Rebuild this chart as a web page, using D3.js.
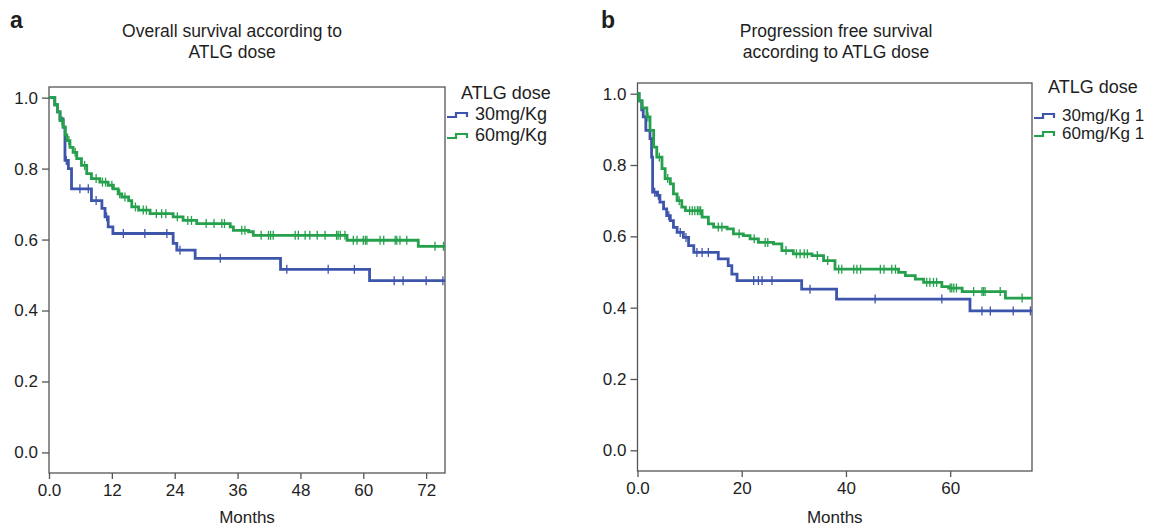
<!DOCTYPE html>
<html lang="en">
<head>
<meta charset="utf-8">
<title>Survival according to ATLG dose</title>
<script src="https://d3js.org/d3.v7.min.js"></script>
<style>
  body { margin: 0; background: #fff; }
  text { font-family: "Liberation Sans", Arial, sans-serif; fill: #1e1e1e; }
</style>
</head>
<body>
<script>
var width = 1154, height = 528

// step points [months, survival]
var os30 = [[0,1],[1.1,0.98],[1.6,0.96],[2.1,0.94],[2.7,0.917],[3.05,0.823],[3.7,0.80],[4.3,0.743],[8.1,0.71],[10.1,0.688],[10.7,0.664],[11.3,0.636],[12.2,0.617],[23.7,0.589],[24.4,0.57],[27.9,0.547],[44.2,0.516],[61.2,0.484]]
var os60 = [[0,1],[1.1,0.98],[1.6,0.96],[2.1,0.935],[2.7,0.917],[3.1,0.895],[3.4,0.879],[4.0,0.86],[4.6,0.846],[5.3,0.828],[6.2,0.809],[7.2,0.786],[8.1,0.772],[9.7,0.762],[11.3,0.753],[12.3,0.743],[13.2,0.729],[13.9,0.72],[15.2,0.71],[15.8,0.692],[17.1,0.683],[19.3,0.673],[23.7,0.664],[25.6,0.654],[28.2,0.645],[34.6,0.636],[35.2,0.626],[38.1,0.622],[39.0,0.612],[56.9,0.598],[70.5,0.581]]
var pfs30 = [[0,1],[0.3,0.98],[0.8,0.955],[1.1,0.935],[1.6,0.897],[2.4,0.874],[2.7,0.822],[2.9,0.724],[3.7,0.715],[4.3,0.696],[5.0,0.677],[5.6,0.658],[6.3,0.644],[6.9,0.625],[7.6,0.611],[8.8,0.597],[9.8,0.574],[10.8,0.555],[15.5,0.537],[17.4,0.518],[18.1,0.494],[19.1,0.476],[31.5,0.452],[38.2,0.424],[63.8,0.391]]
var pfs60 = [[0,1],[0.3,0.98],[0.9,0.96],[1.8,0.935],[2.4,0.897],[3.1,0.85],[3.7,0.822],[4.7,0.79],[5.3,0.762],[6.3,0.747],[6.9,0.719],[7.6,0.70],[8.5,0.682],[9.2,0.672],[12.4,0.654],[13.6,0.635],[14.6,0.626],[17.2,0.621],[18.4,0.607],[20.3,0.602],[21.6,0.593],[23.2,0.583],[26.1,0.579],[27.7,0.56],[29.9,0.551],[33.5,0.546],[35.7,0.532],[37.9,0.508],[50.1,0.499],[51.4,0.49],[53.3,0.48],[54.9,0.471],[58.4,0.459],[59.7,0.455],[62.3,0.445],[70.6,0.427]]

// censored times (months)
var os30Cens = [3.3,5.9,7.5,9.0,11.0,14.2,18.3,22.5,25.0,32.7,45.4,53.3,58.3,65.9,67.6,72.0,75.2]
var os60Cens = [2.5,3.8,5.0,6.8,9.0,10.2,10.8,12.0,13.5,14.5,16.5,18.0,18.6,20.5,21.5,22.3,24.5,26.5,27.2,30.0,31.5,33.0,33.5,36.8,37.4,40.5,41.9,42.3,42.8,47.0,47.6,48.9,49.8,51.2,52.7,54.9,55.2,55.6,56.5,58.1,58.8,60.0,60.4,60.7,63.2,63.9,66.1,66.4,67.0,68.3,73.7,75.3]
var pfs30Cens = [3.3,4.0,6.0,8.2,9.3,11.4,12.4,13.6,22.3,23.2,23.9,25.8,33.1,45.6,58.4,66.1,67.7,72.1,75.4]
var pfs60Cens = [2.0,4.2,5.8,8.0,10.0,10.5,11.0,11.5,11.8,12.1,15.5,16.2,19.5,22.4,24.5,25.0,28.5,30.5,31.2,32.0,32.6,34.5,36.5,38.6,39.2,41.5,42.1,42.8,46.6,47.3,48.8,49.5,55.5,56.1,56.8,57.4,60.0,60.3,60.7,61.2,64.5,66.1,66.4,66.7,69.6,73.8]

var osTicks = [0,12,24,36,48,60,72]
var pfsTicks = [0,20,40,60]
var yTicks = [0,0.2,0.4,0.6,0.8,1.0]
var groups = ["30mg/Kg","60mg/Kg"]
var groupsB = ["30mg/Kg 1","60mg/Kg 1"]
var colors = ["#3d55aa","#25a04c"]

var svg = d3.select("body").append("svg")
            .attr("width", width)
            .attr("height", height)

function panel(o) {
  var x = d3.scaleLinear().domain([0, o.xmax]).range([o.left, o.right])
  var y = d3.scaleLinear().domain([-0.058, 1.03]).range([o.bottom, o.top])
  var g = svg.append("g")

  g.append("rect")
   .attr("x", o.left).attr("y", o.top)
   .attr("width", o.right - o.left).attr("height", o.bottom - o.top)
   .attr("fill", "none").attr("stroke", "#555").attr("stroke-width", 1.3)

  var xa = g.append("g").attr("transform", "translate(0," + o.bottom + ")")
            .call(d3.axisBottom(x).tickValues(o.xticks).tickSize(6).tickPadding(5)
                  .tickFormat(function(d){ return d === 0 ? "0.0" : d }))
  var ya = g.append("g").attr("transform", "translate(" + o.left + ",0)")
            .call(d3.axisLeft(y).tickValues(yTicks).tickSize(7).tickPadding(4).tickFormat(d3.format(".1f")))
  ;[xa, ya].forEach(function(a){
    a.select(".domain").remove()
    a.selectAll("line").attr("stroke", "#555").attr("stroke-width", 1.3)
    a.selectAll("text").style("font-size", "17px").attr("fill", "#1e1e1e")
  })

  g.append("text").attr("x", (o.left + o.right) / 2).attr("y", 523)
   .attr("text-anchor", "middle").style("font-size", "17px").text("Months")

  g.append("text").attr("x", o.letterX).attr("y", 28)
   .style("font-size", "23px").style("font-weight", "bold").text(o.letter)
  o.title.forEach(function(t, i){
    g.append("text").attr("x", o.titleX).attr("y", 37 + i * 21)
     .attr("text-anchor", "middle").style("font-size", "17.5px").text(t)
  })

  var line = d3.line().curve(d3.curveStepAfter)
               .x(function(d){ return x(d[0]) }).y(function(d){ return y(d[1]) })

  o.series.forEach(function(s, i){
    var pts = s.concat([[o.xmax, s[s.length - 1][1]]])
    g.append("path").datum(pts).attr("d", line)
     .attr("fill", "none").attr("stroke", colors[i]).attr("stroke-width", 2.8)
    g.selectAll(null).data(o.cens[i]).enter().append("line")
     .attr("x1", function(t){ return x(t) }).attr("x2", function(t){ return x(t) })
     .attr("y1", function(t){ return y(survAt(s, t)) - 4.5 })
     .attr("y2", function(t){ return y(survAt(s, t)) + 4.5 })
     .attr("stroke", colors[i]).attr("stroke-width", 1.3)
  })

  // legend
  g.append("text").attr("x", o.legX + 14).attr("y", o.legY)
   .style("font-size", "18px").text("ATLG dose")
  o.labels.forEach(function(lab, i){
    var ly = o.legY + o.legFirst + i * o.legGap
    var lx = o.legX
    g.append("path")
     .attr("d", "M" + lx + "," + (ly - 3) + "H" + (lx + 9) + "V" + (ly - 7) + "H" + (lx + 20) + "V" + (ly - 3))
     .attr("fill", "none").attr("stroke", colors[i]).attr("stroke-width", 2.2)
    g.append("text").attr("x", lx + 28).attr("y", ly)
     .style("font-size", o.legSize).text(lab)
  })
}

function survAt(s, t) {
  var v = 1
  s.forEach(function(p){ if (p[0] <= t) v = p[1] })
  return v
}

panel({left: 49, right: 445, top: 87, bottom: 473, xmax: 75.6, xticks: osTicks,
       series: [os30, os60], cens: [os30Cens, os60Cens], labels: groups,
       letter: "a", letterX: 10, title: ["Overall survival according to", "ATLG dose"], titleX: 232,
       legX: 447, legY: 99, legFirst: 21, legGap: 21, legSize: "18px"})

panel({left: 637.5, right: 1032, top: 83, bottom: 471, xmax: 75.7, xticks: pfsTicks,
       series: [pfs30, pfs60], cens: [pfs30Cens, pfs60Cens], labels: groupsB,
       letter: "b", letterX: 601, title: ["Progression free survival", "according to ATLG dose"], titleX: 836,
       legX: 1034, legY: 93, legFirst: 28, legGap: 18, legSize: "17px"})
</script>
</body>
</html>
